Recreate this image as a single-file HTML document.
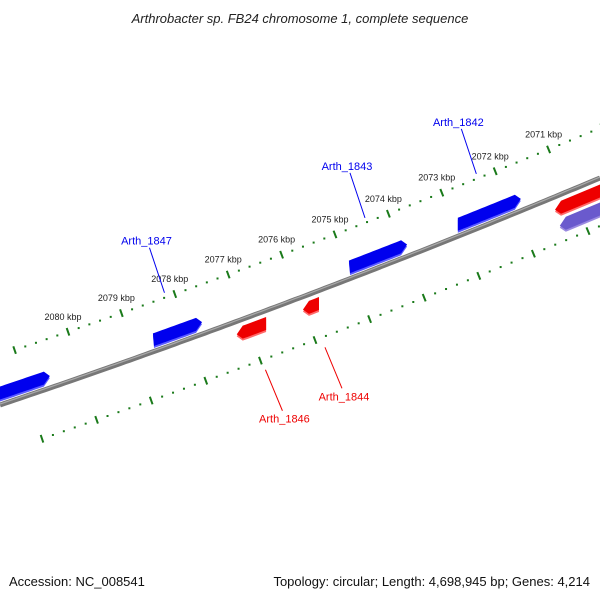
<!DOCTYPE html>
<html><head><meta charset="utf-8"><style>
body{margin:0;background:#fff}
svg{display:block}
text{font-family:"Liberation Sans","DejaVu Sans",sans-serif}
</style></head><body>
<svg id="c" width="600" height="600" viewBox="0 0 600 600">
<text x="300" y="23" text-anchor="middle" font-size="13" font-style="italic" fill="#222">Arthrobacter sp. FB24 chromosome 1, complete sequence</text>
<text x="9" y="586" font-size="13" fill="#111">Accession: NC_008541</text>
<text x="590" y="586" text-anchor="end" font-size="13" fill="#111">Topology: circular; Length: 4,698,945 bp; Genes: 4,214</text>
<g id="g"></g>
</svg>
<script>
// data
const outerTickKbp=[2081,2080,2079,2078,2077,2076,2075,2074,2073,2072,2071,2070];
const outerTickLabels=["","2080 kbp","2079 kbp","2078 kbp","2077 kbp","2076 kbp","2075 kbp","2074 kbp","2073 kbp","2072 kbp","2071 kbp",""];
const innerTickKbp=[2081,2080,2079,2078,2077,2076,2075,2074,2073,2072,2071,2070];
const geneNames=["g0","Arth_1847","Arth_1846","Arth_1844","Arth_1843","Arth_1842","g7","g8"];
const geneStartKbp=[2081.46,2078.41,2076.84,2075.6,2074.74,2072.70,2070.88,2070.79];
const geneEndKbp=[2080.34,2077.49,2076.29,2075.3,2073.65,2071.52,2069.85,2069.85];
const geneStrand=[1,1,-1,-1,1,1,-1,-2];
const geneLabelled=[0,1,1,1,1,1,0,0];
const g=document.getElementById('g');
const NS='http://www.w3.org/2000/svg';
function mk(t,a,p){const e=document.createElementNS(NS,t);for(const k in a)e.setAttribute(k,a[k]);(p||g).appendChild(e);return e;}
const xScale=k=>68+(2080-k)*53.4;
const xInner=k=>42+(2081-k)*54.6;
function by(x){const t=x/600;return 405*(1-t)*(1-t)+2*304*t*(1-t)+178*t*t;}
function curve(off){let d='';for(let x=0;x<=600;x+=5)d+=(x?'L':'M')+x+','+(by(x)+off).toFixed(1);return d;}
function ang(x){return Math.atan2(by(x+1)-by(x-1),2)*180/Math.PI;}
let b=mk('path',{d:curve(0),stroke:'#777',"stroke-width":5,fill:'none'});

mk('path',{d:curve(-1),stroke:'#aaa',"stroke-width":1.2,fill:'none'});
function ticks(arr,xf,off,name){
  arr.forEach((k,i)=>{
    for(let m=0;m<5;m++){
      const x=xf(k-m*0.2); if(x<-5||x>605)continue;
      const y=by(x)+off, a=ang(x);
      let e;
      if(m==0){e=mk('line',{x1:x,y1:y-4,x2:x,y2:y+4,stroke:'#1a7a1a',"stroke-width":2,transform:`rotate(${a},${x},${y})`});
        }
      else {e=mk('rect',{x:x-1,y:y-1,width:2,height:2,fill:'#1a7a1a'});
        }
      
    }
  });
}
ticks(outerTickKbp,xScale,-50,'outer');
ticks(innerTickKbp,xInner,48,'inner');
outerTickKbp.forEach((k,i)=>{
  if(!outerTickLabels[i])return;
  const x=xScale(k);const y=by(x)-50-12;
  const t=mk('text',{x:x-5,y:y,"text-anchor":"middle","font-size":9,fill:'#222'});t.textContent=outerTickLabels[i];
  
});
geneNames.forEach((n,i)=>{
  const s=geneStrand[i];
  const off=s==1?-12:(s==-1?13:31);
  const col=s==1?'#0000ee':(s==-1?'#ee0000':'#6a5acd');
  const lite=s==1?'#5a5aff':(s==-1?'#ff6a6a':'#9a8ae0');
  const x0=xScale(geneStartKbp[i]),x1=xScale(geneEndKbp[i]);
  const h=6.5,hd=6;
  const dir=s==1?1:-1;
  const xa=Math.min(x0,x1),xb=Math.max(x0,x1);
  let d;
  if(dir==1){
    const xe=xb-hd;
    d='M'+xa+','+(by(xa)+off-h);
    for(let x=xa;x<=xe;x+=3)d+='L'+x+','+(by(x)+off-h);
    d+='L'+xe+','+(by(xe)+off-h)+'L'+xb+','+(by(xb)+off)+'L'+xe+','+(by(xe)+off+h);
    for(let x=xe;x>=xa;x-=3)d+='L'+x+','+(by(x)+off+h);
    d+='Z';
  } else {
    const xs=xa+hd;
    d='M'+xa+','+(by(xa)+off)+'L'+xs+','+(by(xs)+off-h);
    for(let x=xs;x<=xb;x+=3)d+='L'+x+','+(by(x)+off-h);
    d+='L'+xb+','+(by(xb)+off-h)+'L'+xb+','+(by(xb)+off+h);
    for(let x=xb;x>=xs;x-=3)d+='L'+x+','+(by(x)+off+h);
    d+='L'+xs+','+(by(xs)+off+h)+'Z';
  }
  const grp=mk('g',{});
  
  
  mk('path',{d:d,fill:lite,transform:'translate(0,2)'},grp);
  mk('path',{d:d,fill:col},grp);
  if(geneLabelled[i]){
    const xm=(xa+xb)/2, fc=s==1?'#0000ee':'#ee0000';
    let lx,ly,ex,ey,tx,ty;
    if(s==1){ex=xm-13;ey=by(ex)-50-5;lx=ex-15;ly=ey-45;tx=lx-3;ty=ly-3;}
    else {ex=xm+14;ey=by(ex)+48+11;lx=ex+17;ly=ey+41;tx=lx+2;ty=ly+12;}
    const l=mk('line',{x1:ex,y1:ey,x2:lx,y2:ly,stroke:fc,"stroke-width":1});
    
    const t=mk('text',{x:tx,y:ty,"text-anchor":"middle","font-size":11,fill:fc});t.textContent=n;
    
  }
});
</script>
</body></html>
